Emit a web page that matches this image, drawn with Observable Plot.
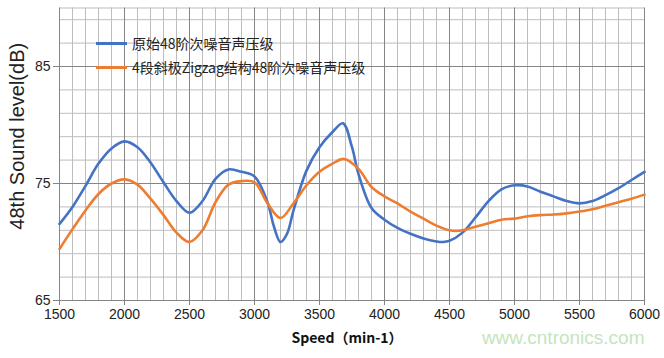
<!DOCTYPE html>
<html><head><meta charset="utf-8">
<script src="https://cdn.jsdelivr.net/npm/d3@7"></script>
<script src="https://cdn.jsdelivr.net/npm/@observablehq/plot@0.6"></script>
<style>
body{margin:0;background:#fff;}
#wrap{position:relative;width:664px;height:358px;font-family:"Liberation Sans",Arial,sans-serif;}
.leg{position:absolute;left:96px;display:flex;align-items:center;font-family:"Noto Sans CJK SC","Liberation Sans",sans-serif;font-size:14px;color:#222;white-space:nowrap;}
.leg span.sw{display:inline-block;width:31px;height:3px;margin-right:5px;}
</style></head>
<body><div id="wrap"></div>
<script>
const seriesNames = ["原始48阶次噪音声压级", "4段斜极Zigzag结构48阶次噪音声压级"];
const seriesColors = ["#4472C4", "#ED7D31"];
const blueSpeed = [1500,1600,1700,1800,1900,2000,2100,2200,2300,2400,2500,2600,2700,2800,2900,3000,3100,3150,3200,3250,3300,3400,3500,3600,3680,3750,3800,3900,4000,4100,4200,4300,4400,4450,4500,4600,4700,4800,4900,5000,5100,5200,5300,5400,5500,5600,5700,5800,5900,6000];
const blueLevel = [71.55,73.0,74.8,76.7,78.0,78.6,78.1,76.8,75.1,73.5,72.5,73.5,75.4,76.2,76.0,75.6,73.4,71.3,70.0,70.7,72.7,76.1,78.1,79.4,80.15,78.1,75.8,72.9,71.9,71.2,70.7,70.3,70.05,70.0,70.1,70.8,72.1,73.5,74.5,74.85,74.75,74.3,73.9,73.5,73.3,73.5,74.0,74.6,75.3,76.0];
const orangeSpeed = [1500,1600,1700,1800,1900,2000,2100,2200,2300,2400,2500,2600,2700,2800,2900,3000,3100,3200,3300,3400,3500,3600,3690,3800,3900,4000,4100,4200,4300,4400,4500,4550,4600,4700,4800,4900,5000,5100,5200,5300,5400,5500,5600,5700,5800,5900,6000];
const orangeLevel = [69.4,71.1,72.7,74.1,75.0,75.35,74.9,73.7,72.3,70.8,70.0,71.0,73.4,74.9,75.2,75.1,73.3,72.05,73.3,74.85,76.0,76.7,77.1,76.25,74.7,73.9,73.3,72.6,72.0,71.4,71.0,70.95,71.0,71.3,71.6,71.9,72.0,72.2,72.3,72.35,72.45,72.6,72.8,73.1,73.4,73.7,74.05];
const xTicks = [1500,2000,2500,3000,3500,4000,4500,5000,5500,6000];
const yTicks = [65,75,85];
const xMinorGrid = d3.range(1500, 6001, 100);
const yMinorGrid = [...d3.range(65, 90, 2), 90];
const xLabel = "Speed（min-1）";
const yLabel = "48th Sound level(dB)";
const watermark = "www.cntronics.com";

const blue = blueSpeed.map((s,i)=>({speed:s, level:blueLevel[i]}));
const orange = orangeSpeed.map((s,i)=>({speed:s, level:orangeLevel[i]}));

const chart = Plot.plot({
  width: 664, height: 358,
  marginLeft: 59, marginRight: 20, marginTop: 7.5, marginBottom: 58,
  style: {fontFamily: '"Liberation Sans", Arial, sans-serif', background: "#fff", color: "#222"},
  x: {domain: [1500, 6000]},
  y: {domain: [65, 90]},
  marks: [
    Plot.ruleX(xMinorGrid.filter(v => v % 500 !== 0), {stroke: "#bdbdbd", strokeWidth: 1}),
    Plot.ruleY(yMinorGrid.filter(v => !yTicks.includes(v)), {stroke: "#bdbdbd", strokeWidth: 1}),
    Plot.ruleX(xTicks, {stroke: "#858585", strokeWidth: 1}),
    Plot.ruleY(yTicks, {stroke: "#858585", strokeWidth: 1}),
    Plot.axisX(xTicks, {tickSize: 5, tickPadding: 4, fontSize: 14, stroke: "#858585", fill: "#222", label: null, tickFormat: d => String(d)}),
    Plot.axisY(yTicks, {tickSize: 6, tickPadding: 3, fontSize: 14, stroke: "#858585", fill: "#222", label: null, tickFormat: d => String(d)}),
    Plot.line(blue, {x: "speed", y: "level", stroke: seriesColors[0], strokeWidth: 2.6, curve: "catmull-rom"}),
    Plot.line(orange, {x: "speed", y: "level", stroke: seriesColors[1], strokeWidth: 2.6, curve: "catmull-rom"}),
    Plot.text([yLabel], {frameAnchor: "left", textAnchor: "middle", rotate: -90, dx: -42, dy: -18, fontSize: 20, fill: "#222"}),
    Plot.text([xLabel], {frameAnchor: "bottom", dx: -5, dy: 42, fontSize: 14, fontWeight: "bold", fill: "#111", fontFamily: '"Noto Sans CJK SC", sans-serif'}),
    Plot.text([watermark], {frameAnchor: "bottom-right", textAnchor: "end", dy: 43, fontSize: 19, fill: "#c6e4be"})
  ]
});
const wrap = document.getElementById("wrap");
wrap.appendChild(chart);
const tops = [33, 57];
seriesNames.forEach((n,i)=>{
  const d = document.createElement("div");
  d.className = "leg";
  d.style.top = tops[i] + "px";
  d.innerHTML = `<span class="sw" style="background:${seriesColors[i]}"></span><span>${n}</span>`;
  wrap.appendChild(d);
});
</script></body></html>
